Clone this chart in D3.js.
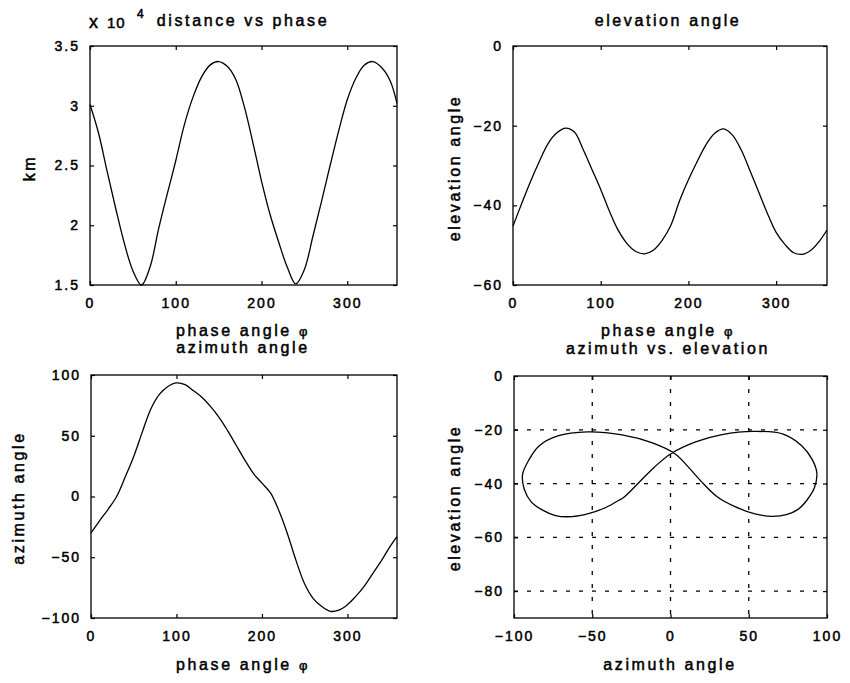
<!DOCTYPE html>
<html>
<head>
<meta charset="utf-8">
<script src="https://cdn.jsdelivr.net/npm/d3@7"></script>
<style>
body { margin: 0; background: #fff; }
text { font-family: "Liberation Sans", Arial, Helvetica, sans-serif; fill: #000; stroke: #000; stroke-width: 0.5px; }
.tick text { font-size: 14px; letter-spacing: 2px; }
.lbl { font-size: 16px; letter-spacing: 2.6px; }
</style>
</head>
<body>
<svg width="850" height="683"></svg>
<script>
// phase angle samples (deg)
var phi = [0, 10, 20, 30, 40, 50, 60, 70, 80, 90, 100, 110, 120, 130, 140, 150, 160, 170,
           180, 190, 200, 210, 220, 230, 240, 250, 260, 270, 280, 290, 300, 310, 320, 330, 340, 350, 358];

// distance in km
var distance = [30100, 27700, 24500, 21400, 18500, 16200, 15000, 16500, 19700, 22600, 25400, 28400,
                30700, 32400, 33400, 33700, 33300, 32200, 29900, 26900, 23700, 20900, 18600, 16500,
                15100, 16300, 19100, 22000, 25000, 27900, 30500, 32300, 33400, 33700, 33200, 32100, 30200];

// elevation angle (deg)
var elevation = [-45.2, -39.5, -34, -29, -24.5, -21.8, -20.6, -21.6, -26, -31, -36, -41.5,
                 -46.3, -49.6, -51.6, -52.2, -51.3, -48.8, -45, -38.8, -33.6, -29, -24.8, -21.9,
                 -20.8, -22.3, -26, -31.2, -36.6, -42, -46.8, -49.8, -51.9, -52.3, -51.2, -48.8, -46.2];

// azimuth angle (deg)
var azimuth = [-30, -20, -10.5, 0, 16, 33, 53, 72, 84, 90.5, 93.5, 92,
               87, 81.5, 74, 65, 54, 42, 30, 19, 11, 3, -12, -31,
               -53, -72, -84, -90.5, -94.5, -93.5, -89, -82, -73.5, -63, -52.5, -41, -33];

// tick values
var phiTicks = [0, 100, 200, 300];
var distTicks = [15000, 20000, 25000, 30000, 35000];
var elevTicks = [-60, -40, -20, 0];
var azTicks = [-100, -50, 0, 50, 100];
var elevTicks2 = [-80, -60, -40, -20, 0];

var svg = d3.select("svg");

// draws box + inner ticks on all four sides
function panel(box, x, y, xt, yt, yfmt) {
  var g = svg.append("g");
  var h = box.bottom - box.top, w = box.right - box.left;

  g.append("g")
    .attr("transform", "translate(0," + box.bottom + ")")
    .call(d3.axisBottom(x).tickValues(xt).tickSizeInner(-4).tickSizeOuter(0).tickPadding(13).tickFormat(d3.format("d")));
  g.append("g")
    .attr("transform", "translate(0," + box.top + ")")
    .call(d3.axisTop(x).tickValues(xt).tickSizeInner(-4).tickSizeOuter(0).tickFormat(""));
  g.append("g")
    .attr("transform", "translate(" + box.left + ",0)")
    .call(d3.axisLeft(y).tickValues(yt).tickSizeInner(-4).tickSizeOuter(0).tickPadding(10).tickFormat(yfmt));
  g.append("g")
    .attr("transform", "translate(" + box.right + ",0)")
    .call(d3.axisRight(y).tickValues(yt).tickSizeInner(-4).tickSizeOuter(0).tickFormat(""));

  g.selectAll(".domain").remove();
  g.selectAll(".tick line").attr("stroke-width", 1.2);

  g.append("rect")
    .attr("x", box.left).attr("y", box.top)
    .attr("width", w).attr("height", h)
    .attr("fill", "none").attr("stroke", "#000").attr("stroke-width", 1.3);
  return g;
}

function title(txt, cx, by) {
  svg.append("text").attr("class", "lbl")
    .attr("x", cx).attr("y", by)
    .attr("text-anchor", "middle")
    .text(txt);
}

function phiLabel(cx, by) {
  var t = svg.append("text").attr("class", "lbl")
    .attr("x", cx).attr("y", by)
    .attr("text-anchor", "middle");
  t.append("tspan").text("phase angle ");
  t.append("tspan").style("font-size", "13px").text("φ");
}

function yLabel(txt, bx, cy) {
  svg.append("text").attr("class", "lbl")
    .attr("transform", "translate(" + bx + "," + cy + ") rotate(-90)")
    .attr("text-anchor", "middle")
    .text(txt);
}

// ---- distance vs phase
var b1 = {left: 90, right: 397, top: 46, bottom: 285};
var x1 = d3.scaleLinear().domain([0, 358]).range([b1.left, b1.right]);
var y1 = d3.scaleLinear().domain([15000, 35000]).range([b1.bottom, b1.top]);
var g1 = panel(b1, x1, y1, phiTicks, distTicks, function(d) { return d / 1e4; });
g1.insert("path", "rect")
  .attr("d", d3.line().x(function(d, i) { return x1(phi[i]); }).y(function(d) { return y1(d); }).curve(d3.curveCatmullRom)(distance))
  .attr("fill", "none").attr("stroke", "#000").attr("stroke-width", 1.3);

// exponent label
svg.append("text").attr("x", 89).attr("y", 28).style("font-size", "18px").text("x");
svg.append("text").attr("x", 107).attr("y", 28).style("font-size", "15px").style("letter-spacing", "1px").text("10");
svg.append("text").attr("x", 137).attr("y", 18).style("font-size", "12px").text("4");
title("distance vs phase", 243, 26);
phiLabel(243, 336);
yLabel("km", 35, 168);

// ---- elevation angle
var b2 = {left: 513, right: 827, top: 46, bottom: 285};
var x2 = d3.scaleLinear().domain([0, 358]).range([b2.left, b2.right]);
var y2 = d3.scaleLinear().domain([-60, 0]).range([b2.bottom, b2.top]);
var g2 = panel(b2, x2, y2, phiTicks, elevTicks, d3.format("d"));
g2.insert("path", "rect")
  .attr("d", d3.line().x(function(d, i) { return x2(phi[i]); }).y(function(d) { return y2(d); }).curve(d3.curveCatmullRom)(elevation))
  .attr("fill", "none").attr("stroke", "#000").attr("stroke-width", 1.3);
title("elevation angle", 668, 26);
phiLabel(668, 336);
yLabel("elevation angle", 460, 168);

// ---- azimuth angle
var b3 = {left: 91, right: 397, top: 375, bottom: 618};
var x3 = d3.scaleLinear().domain([0, 358]).range([b3.left, b3.right]);
var y3 = d3.scaleLinear().domain([-100, 100]).range([b3.bottom, b3.top]);
var g3 = panel(b3, x3, y3, phiTicks, azTicks, d3.format("d"));
g3.insert("path", "rect")
  .attr("d", d3.line().x(function(d, i) { return x3(phi[i]); }).y(function(d) { return y3(d); }).curve(d3.curveCatmullRom)(azimuth))
  .attr("fill", "none").attr("stroke", "#000").attr("stroke-width", 1.3);
title("azimuth angle", 243, 353);
phiLabel(243, 670);
yLabel("azimuth angle", 24, 498);

// ---- azimuth vs elevation
var b4 = {left: 514, right: 827, top: 376, bottom: 618};
var x4 = d3.scaleLinear().domain([-100, 100]).range([b4.left, b4.right]);
var y4 = d3.scaleLinear().domain([-90, 0]).range([b4.bottom, b4.top]);
var g4 = panel(b4, x4, y4, azTicks, elevTicks2, d3.format("d"));

// dotted grid
var grid = g4.insert("g", ":first-child").attr("stroke", "#000").attr("stroke-width", 1.3).attr("stroke-dasharray", "4,9");
grid.selectAll(".gx").data([-50, 0, 50]).enter().append("line")
  .attr("x1", function(d) { return x4(d); }).attr("x2", function(d) { return x4(d); })
  .attr("y1", b4.top).attr("y2", b4.bottom);
grid.selectAll(".gy").data([-80, -60, -40, -20]).enter().append("line")
  .attr("y1", function(d) { return y4(d); }).attr("y2", function(d) { return y4(d); })
  .attr("x1", b4.left).attr("x2", b4.right);

g4.insert("path", "rect")
  .attr("d", d3.line().x(function(d, i) { return x4(azimuth[i]); }).y(function(d, i) { return y4(elevation[i]); }).curve(d3.curveCatmullRomClosed)(phi))
  .attr("fill", "none").attr("stroke", "#000").attr("stroke-width", 1.3);
title("azimuth vs. elevation", 668, 354);
svg.append("text").attr("class", "lbl").attr("x", 670).attr("y", 670).attr("text-anchor", "middle").text("azimuth angle");
yLabel("elevation angle", 460, 498);
</script>
</body>
</html>
